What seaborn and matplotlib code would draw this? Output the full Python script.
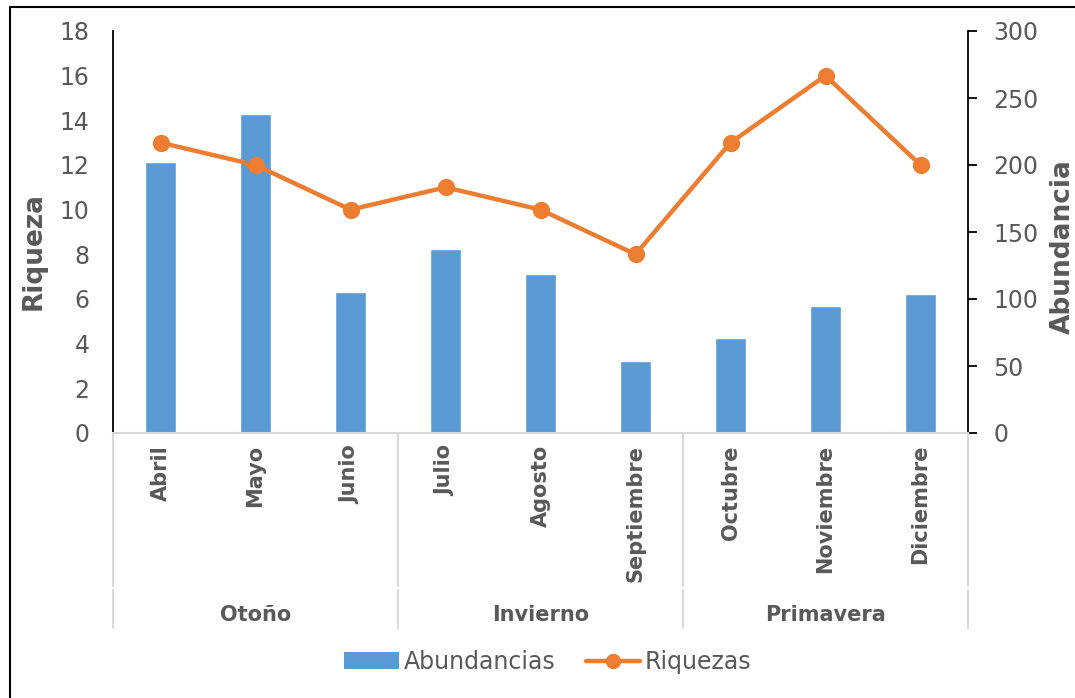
import matplotlib
matplotlib.use("Agg")
import matplotlib.pyplot as plt
import matplotlib.transforms as mtransforms
from matplotlib.lines import Line2D
from matplotlib.patches import Patch
import seaborn as sns
import pandas as pd

# ---- data ----
meses = ['Abril', 'Mayo', 'Junio', 'Julio', 'Agosto', 'Septiembre',
         'Octubre', 'Noviembre', 'Diciembre']
estaciones = ['Otoño', 'Invierno', 'Primavera']
meses_por_estacion = [3, 3, 3]
abundancias = [202, 238, 105, 137, 119, 54, 71, 95, 104]
riquezas = [13, 12, 10, 11, 10, 8, 13, 16, 12]
ticks_riqueza = [0, 2, 4, 6, 8, 10, 12, 14, 16, 18]
ticks_abund = [0, 50, 100, 150, 200, 250, 300]

df = pd.DataFrame({'Mes': meses, 'Abundancias': abundancias, 'Riquezas': riquezas})

sns.set_theme(style='white')
plt.rcParams['font.family'] = ['DejaVu Sans']

TXT = '#595959'
BLUE = '#5B9BD5'
ORANGE = '#ED7D31'
GRID = '#D9D9D9'

fig = plt.figure(figsize=(10.75, 6.98), dpi=100)
W, H = 1075, 698
x0, x1, ytop, ybot = 113, 968, 31, 433
ax = fig.add_axes([x0 / W, 1 - ybot / H, (x1 - x0) / W, (ybot - ytop) / H])
ax2 = ax.twinx()

# bars on right axis
sns.barplot(data=df, x='Mes', y='Abundancias', order=meses, color=BLUE,
            saturation=1, width=0.33, ax=ax2, errorbar=None)
# line on left axis
sns.pointplot(data=df, x='Mes', y='Riquezas', order=meses, color=ORANGE,
              markers='o', markersize=10, linewidth=3.2, ax=ax, errorbar=None)

ax.set_zorder(ax2.get_zorder() + 1)
ax.patch.set_visible(False)

ax.set_xlim(-0.5, len(meses) - 0.5)
ax.set_ylim(0, 18)
ax2.set_ylim(0, 300)
ax.set_yticks(ticks_riqueza)
ax2.set_yticks(ticks_abund)

ax.set_xticks([])
ax2.set_xticks([])
ax.set_xlabel('')
ax2.set_xlabel('')

for a in (ax, ax2):
    for s in a.spines.values():
        s.set_visible(False)
ax.spines['left'].set_visible(True)
ax.spines['left'].set_color('black')
ax.spines['left'].set_linewidth(1.3)
ax.spines['bottom'].set_visible(True)
ax.spines['bottom'].set_color(GRID)
ax.spines['bottom'].set_linewidth(1.5)
ax2.spines['right'].set_visible(True)
ax2.spines['right'].set_color('black')
ax2.spines['right'].set_linewidth(1.3)

ax.tick_params(axis='y', length=0, pad=17, labelsize=17, labelcolor=TXT)
ax2.tick_params(axis='y', which='major', direction='out', length=6.5, width=1.3,
                color='black', pad=11.5, labelsize=17, labelcolor=TXT, right=True)

ax.set_ylabel('Riqueza', fontsize=19, fontweight='bold', color=TXT)
ax2.set_ylabel('Abundancia', fontsize=19, fontweight='bold', color=TXT)
ax.yaxis.set_label_coords((47 - x0) / (x1 - x0), (ybot - 251) / (ybot - ytop))
ax2.yaxis.set_label_coords((1050 - x0) / (x1 - x0), (ybot - 247) / (ybot - ytop))

# multi-level category labels
trans = mtransforms.blended_transform_factory(ax.transData, ax.transAxes)
def fy(py):
    return (ybot - py) / (ybot - ytop)

for i, m in enumerate(meses):
    ax.text(i, fy(445), m, rotation=90, ha='center', va='top', fontsize=15,
            fontweight='bold', color=TXT, transform=trans, clip_on=False)

start = 0
bounds = [-0.5]
for est, n in zip(estaciones, meses_por_estacion):
    center = start + (n - 1) / 2
    ax.text(center, fy(615), est, ha='center', va='center', fontsize=15,
            fontweight='bold', color=TXT, transform=trans, clip_on=False)
    start += n
    bounds.append(start - 0.5)

for b in bounds:
    ax.add_line(Line2D([b, b], [fy(ybot), fy(586)], color=GRID, lw=1.5,
                       transform=trans, clip_on=False))
    ax.add_line(Line2D([b, b], [fy(590), fy(628)], color=GRID, lw=1.5,
                       transform=trans, clip_on=False))

# legend
handles = [Patch(facecolor=BLUE, edgecolor='none'),
           Line2D([], [], color=ORANGE, lw=3.2, marker='o', markersize=10)]
fig.legend(handles, ['Abundancias', 'Riquezas'], loc='center',
           bbox_to_anchor=(548 / W, 1 - 662 / H), ncol=2, frameon=False,
           fontsize=17, labelcolor=TXT, handlelength=2.3, handletextpad=0.2,
           columnspacing=1.3)

# outer frame (partially visible, as in the reference)
fig.add_artist(Line2D([10 / W, 10 / W], [0, 1 - 7 / H], color='black', lw=1.5,
                      transform=fig.transFigure))
fig.add_artist(Line2D([10 / W, 1], [1 - 7 / H, 1 - 7 / H], color='black', lw=1.5,
                      transform=fig.transFigure))

fig.savefig('out.png', dpi=100, facecolor='white')
